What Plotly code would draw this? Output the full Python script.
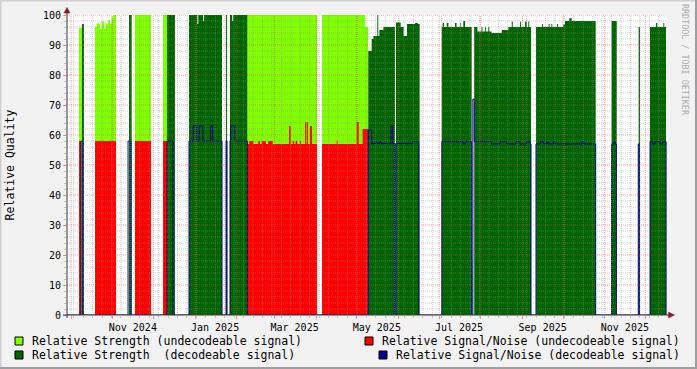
import plotly.graph_objects as go
import pandas as pd

# ---------------- data (step breakpoints: value holds until the next date) ----------------
lg_dates = ["2024-09-28", "2024-10-06 22:00", "2024-10-09 02:00",
            "2024-10-18 19:00", "2024-10-20 00:00", "2024-10-22 12:00", "2024-10-23 16:00",
            "2024-10-25 16:00", "2024-10-26 16:00", "2024-10-28 14:00", "2024-10-29 22:00",
            "2024-10-31 05:00", "2024-11-01 07:00", "2024-11-03 09:00",
            "2024-11-17 10:00", "2024-11-29 07:00",
            "2024-12-08 05:00", "2024-12-11 05:00",
            "2025-02-08 19:00", "2025-04-01 12:00",
            "2025-04-05 05:00", "2025-05-07 02:00", "2025-05-09 12:00",
            "2025-07-25 14:00", "2025-07-26 02:00",
            "2025-12-17 02:24"]
lg_vals = [0, 95.7, 0,
           96.1, 97.2, 95.5, 97.8, 95.5, 97.2, 98.3, 97.2, 99.2, 100, 0,
           100, 0,
           100, 0,
           100, 0,
           100, 96, 0,
           18, 0,
           0]

rd_dates = ["2024-09-28", "2024-10-06 22:00", "2024-10-08 10:00",
            "2024-10-18 19:00", "2024-11-03 09:00",
            "2024-11-17 10:00", "2024-11-29 07:00",
            "2024-12-08 05:00", "2024-12-11 05:00",
            "2025-02-08 19:00", "2025-02-10 05:00", "2025-02-13 05:00", "2025-02-16 22:00",
            "2025-02-18 05:00", "2025-02-19 10:00", "2025-02-22 14:00", "2025-02-24 07:00",
            "2025-02-27 14:00",
            "2025-03-11 17:00", "2025-03-12 22:00", "2025-03-14 10:00", "2025-03-15 10:00",
            "2025-03-16 14:00", "2025-03-17 19:00", "2025-03-19 19:00", "2025-03-20 14:00",
            "2025-03-23 14:00", "2025-03-24 07:00", "2025-03-24 19:00", "2025-03-25 19:00",
            "2025-03-27 07:00", "2025-03-28 19:00", "2025-04-01 12:00",
            "2025-04-05 05:00", "2025-04-16 02:00", "2025-04-16 19:00", "2025-04-30 22:00",
            "2025-05-02 10:00", "2025-05-05 07:00", "2025-05-09 12:00",
            "2025-12-17 02:24"]
rd_vals = [0, 58, 0,
           58, 0,
           58, 0,
           58, 0,
           57, 58, 57, 58, 57, 58, 57, 58, 57,
           63, 57, 58, 57, 58, 57, 58, 57, 64.3, 57, 64.3, 57, 63, 57, 0,
           57, 58, 57, 64.3, 57, 62, 0,
           0]

dg_dates = ["2024-09-28", "2024-10-09 02:00", "2024-10-10 14:00",
            "2024-11-13 00:00", "2024-11-15 00:00",
            "2024-12-11 05:00", "2024-12-17 02:00",
            "2024-12-27 12:00", "2025-01-02 17:00", "2025-01-03 10:00", "2025-01-06 22:00",
            "2025-01-07 17:00", "2025-01-21 00:00",
            "2025-01-24 00:00", "2025-01-24 17:00",
            "2025-01-26 22:00", "2025-01-28 14:00", "2025-01-29 07:00", "2025-02-08 19:00",
            "2025-05-09 12:00", "2025-05-12 00:00", "2025-05-13 07:00", "2025-05-16 05:00",
            "2025-05-16 22:00", "2025-05-17 17:00", "2025-05-20 17:00", "2025-05-29 07:00",
            "2025-05-30 02:00", "2025-06-02 12:00", "2025-06-04 17:00", "2025-06-07 05:00",
            "2025-06-13 05:00", "2025-06-15 05:00", "2025-06-16 14:00",
            "2025-07-03 00:00", "2025-07-03 17:00", "2025-07-04 17:00", "2025-07-06 17:00",
            "2025-07-07 22:00", "2025-07-12 19:00", "2025-07-14 00:00", "2025-07-16 12:00",
            "2025-07-17 00:00", "2025-07-19 00:00", "2025-07-20 07:00", "2025-07-25 05:00",
            "2025-07-27 02:00", "2025-07-29 12:00", "2025-08-01 12:00", "2025-08-02 05:00",
            "2025-08-04 00:00", "2025-08-04 17:00", "2025-08-06 12:00", "2025-08-07 05:00",
            "2025-08-09 00:00", "2025-08-16 12:00", "2025-08-21 10:00", "2025-08-23 22:00",
            "2025-08-24 17:00", "2025-08-30 00:00", "2025-08-30 17:00", "2025-09-02 19:00",
            "2025-09-04 00:00", "2025-09-05 05:00", "2025-09-05 22:00", "2025-09-07 05:00",
            "2025-09-10 22:00", "2025-09-15 10:00", "2025-09-16 02:00", "2025-09-20 07:00",
            "2025-09-21 00:00", "2025-09-22 07:00", "2025-09-23 00:00", "2025-09-26 12:00",
            "2025-09-27 05:00", "2025-10-01 05:00", "2025-10-02 10:00", "2025-10-05 14:00",
            "2025-10-07 10:00", "2025-10-25 05:00",
            "2025-11-06 00:00", "2025-11-09 19:00",
            "2025-11-26 02:00", "2025-11-27 02:00",
            "2025-12-04 12:00", "2025-12-09 00:00", "2025-12-09 22:00", "2025-12-14 10:00",
            "2025-12-15 02:00", "2025-12-16 10:00",
            "2025-12-17 02:24"]
dg_vals = [0, 97, 0,
           100, 0,
           100, 0,
           100, 97, 100, 98, 100, 0,
           100, 0,
           100, 98, 100, 0,
           88, 92, 93, 100, 93, 95, 96, 0, 97.5, 96, 93, 97, 97.3, 97, 0,
           96, 97.3, 96, 97.3, 96, 97.3, 96, 97.3, 96, 98, 96, 0,
           96, 94.5, 96, 94.5, 96, 94.5, 96, 94.5, 94, 95, 96, 97.8, 96, 97.8, 96, 97.8,
           96, 97.8, 96, 0,
           96, 97, 96, 97, 96, 97, 96, 97, 96, 96.8, 98, 98.9, 98, 0,
           98, 0,
           96, 0,
           96, 97.3, 96, 97.3, 96, 0,
           0]

bl_dates = ["2024-09-28", "2024-10-08 10:00", "2024-10-09 22:00",
            "2024-11-12 07:00", "2024-11-14 12:00",
            "2024-12-11 05:00", "2024-12-15 14:00",
            "2024-12-27 12:00", "2024-12-30 17:00", "2025-01-02 05:00", "2025-01-04 02:00",
            "2025-01-06 17:00", "2025-01-12 14:00", "2025-01-14 02:00", "2025-01-21 00:00",
            "2025-01-24 00:00", "2025-01-24 17:00",
            "2025-01-26 22:00", "2025-01-27 10:00", "2025-01-30 10:00", "2025-02-08 19:00",
            "2025-05-09 12:00", "2025-05-12 00:00", "2025-05-15 00:00", "2025-05-16 00:00",
            "2025-05-18 00:00", "2025-05-19 00:00", "2025-05-26 10:00", "2025-05-27 14:00",
            "2025-05-28 19:00", "2025-05-29 19:00", "2025-06-11 10:00", "2025-06-15 22:00",
            "2025-07-03 00:00", "2025-07-19 00:00", "2025-07-20 07:00", "2025-07-25 05:00",
            "2025-07-26 02:00", "2025-07-27 02:00", "2025-08-09 00:00", "2025-08-15 05:00",
            "2025-08-20 05:00", "2025-08-27 00:00", "2025-08-30 00:00", "2025-09-04 00:00",
            "2025-09-06 12:00", "2025-09-07 05:00",
            "2025-09-10 22:00", "2025-09-14 02:00", "2025-09-16 14:00", "2025-09-18 22:00",
            "2025-09-20 02:00", "2025-09-23 19:00", "2025-09-25 00:00", "2025-10-15 00:00",
            "2025-10-16 07:00", "2025-10-25 05:00",
            "2025-11-06 00:00", "2025-11-07 19:00", "2025-11-08 19:00", "2025-11-09 12:00",
            "2025-11-25 19:00", "2025-11-26 14:00",
            "2025-12-04 12:00", "2025-12-06 12:00", "2025-12-08 05:00", "2025-12-11 22:00",
            "2025-12-13 22:00", "2025-12-16 10:00",
            "2025-12-17 02:24"]
bl_vals = [0, 58, 0,
           58, 0,
           58, 0,
           58, 63, 58, 63, 58, 63, 58, 0,
           58, 0,
           58, 63, 58, 0,
           61.7, 57.2, 57.8, 57.2, 57.8, 57.2, 63, 57.2, 0, 57.2, 57.8, 0,
           57.8, 57, 57.8, 0, 72, 57.8, 57, 57.8, 57, 57.8, 57, 57.8, 57, 0,
           57, 57.8, 57, 57.8, 57, 57.8, 57, 57.8, 57, 0,
           57, 57.8, 57, 0,
           57, 0,
           57.8, 57, 57.8, 57, 57.8, 0,
           0]

x_range = ["2024-09-28 00:00", "2025-12-17 02:24"]
month_ticks = ["2024-10-01", "2024-11-01", "2024-12-01", "2025-01-01", "2025-02-01",
               "2025-03-01", "2025-04-01", "2025-05-01", "2025-06-01", "2025-07-01",
               "2025-08-01", "2025-09-01", "2025-10-01", "2025-11-01", "2025-12-01"]
month_labels = ["", "Nov 2024", "", "Jan 2025", "", "Mar 2025", "", "May 2025", "",
                "Jul 2025", "", "Sep 2025", "", "Nov 2025", ""]
y_ticks = [0, 10, 20, 30, 40, 50, 60, 70, 80, 90, 100]

names = ["Relative Strength (undecodeable signal)",
         "Relative Signal/Noise (undecodeable signal)",
         "Relative Strength\u00a0 (decodeable signal)",
         "Relative Signal/Noise (decodeable signal)"]
colors = ["#7FFF00", "#FF0000", "#006400", "#000088"]

for d, v in [(lg_dates, lg_vals), (rd_dates, rd_vals), (dg_dates, dg_vals), (bl_dates, bl_vals)]:
    assert len(d) == len(v), (len(d), len(v))

# ---------------- geometry helpers (pixel -> paper) ----------------
W, H = 697, 369
L, R, T, B = 67, 667, 15, 315


def pxx(px):
    return (px - L) / (R - L)


def pxy(py):
    return (B - py) / (B - T)


FONT = "DejaVu Sans Mono"
fig = go.Figure()

# areas
for d, v, c, n in [(lg_dates, lg_vals, colors[0], names[0]),
                   (rd_dates, rd_vals, colors[1], names[1]),
                   (dg_dates, dg_vals, colors[2], names[2])]:
    fig.add_trace(go.Scatter(x=d, y=v, mode="lines", line_shape="hv",
                             line=dict(width=0, color=c), fill="tozeroy", fillcolor=c,
                             name=n, showlegend=False, hoverinfo="skip"))
# line
fig.add_trace(go.Scatter(x=bl_dates, y=bl_vals, mode="lines", line_shape="hv",
                         line=dict(width=1, color=colors[3]), name=names[3],
                         showlegend=False, hoverinfo="skip"))

# grid drawn over the data (rrdtool style)
t0, t1 = x_range
weeks = [d.strftime("%Y-%m-%d") for d in pd.date_range("2024-10-03", "2025-12-16", freq="7D")]
minor_y = [y for y in range(2, 100, 2) if y % 10]
major_y = list(range(10, 101, 10))


def hlines(vals):
    xs, ys = [], []
    for y in vals:
        xs += [t0, t1, None]
        ys += [y, y, None]
    return xs, ys


def vlines(vals):
    xs, ys = [], []
    for x in vals:
        xs += [x, x, None]
        ys += [0, 100, None]
    return xs, ys


GRID = "rgba(143,143,143,0.45)"
MGRID = "rgba(222,79,79,0.55)"
for (xs, ys), col in [(hlines(minor_y), GRID), (vlines(weeks), GRID),
                      (hlines(major_y), MGRID), (vlines(month_ticks), MGRID)]:
    fig.add_trace(go.Scatter(x=xs, y=ys, mode="lines", line=dict(color=col, width=1, dash="1px,1px"),
                             showlegend=False, hoverinfo="skip", connectgaps=False))

shapes = []
AX = "#3a3a3a"
ARROW = "#801F1F"
# axes lines
shapes.append(dict(type="line", xref="paper", yref="paper", x0=pxx(67), x1=pxx(67),
                   y0=pxy(318), y1=pxy(11), line=dict(color=AX, width=1), layer="above"))
shapes.append(dict(type="line", xref="paper", yref="paper", x0=pxx(63), x1=pxx(669),
                   y0=pxy(315), y1=pxy(315), line=dict(color=AX, width=1), layer="above"))
# arrows
shapes.append(dict(type="path", xref="paper", yref="paper",
                   path=f"M {pxx(64)},{pxy(13)} L {pxx(70)},{pxy(13)} L {pxx(67)},{pxy(7.5)} Z",
                   fillcolor=ARROW, line=dict(color=ARROW, width=0.5), layer="above"))
shapes.append(dict(type="path", xref="paper", yref="paper",
                   path=f"M {pxx(668.5)},{pxy(312)} L {pxx(668.5)},{pxy(318)} L {pxx(674.5)},{pxy(315)} Z",
                   fillcolor=ARROW, line=dict(color=ARROW, width=0.5), layer="above"))
# 3D-ish border of the canvas
shapes.append(dict(type="line", xref="paper", yref="paper", x0=pxx(0), x1=pxx(697),
                   y0=pxy(0.5), y1=pxy(0.5), line=dict(color="#CFCFCF", width=2)))
shapes.append(dict(type="line", xref="paper", yref="paper", x0=pxx(0.5), x1=pxx(0.5),
                   y0=pxy(0), y1=pxy(369), line=dict(color="#CFCFCF", width=2)))
shapes.append(dict(type="line", xref="paper", yref="paper", x0=pxx(0), x1=pxx(697),
                   y0=pxy(368), y1=pxy(368), line=dict(color="#9E9E9E", width=2)))
shapes.append(dict(type="line", xref="paper", yref="paper", x0=pxx(696), x1=pxx(696),
                   y0=pxy(0), y1=pxy(369), line=dict(color="#9E9E9E", width=2)))

# legend (rrdtool layout): boxes + texts
legend_items = [(15, 341, colors[0], names[0], 30),
                (365, 341, colors[1], names[1], 380),
                (15, 355, colors[2], names[2], 30),
                (379, 355, colors[3], names[3], 394)]
annotations = []
for bx, cy, col, txt, tx in legend_items:
    shapes.append(dict(type="rect", xref="paper", yref="paper", x0=pxx(bx), x1=pxx(bx + 8),
                       y0=pxy(cy - 4), y1=pxy(cy + 4), fillcolor=col, line=dict(color="black", width=1)))
    annotations.append(dict(xref="paper", yref="paper", x=pxx(tx), y=pxy(cy), text=txt,
                            showarrow=False, xanchor="left", yanchor="middle",
                            font=dict(family=FONT, size=11.5, color="black")))
# watermark
annotations.append(dict(xref="paper", yref="paper", x=pxx(685), y=pxy(60), text="RRDTOOL / TOBI OETIKER",
                        showarrow=False, textangle=90, xanchor="center", yanchor="middle",
                        font=dict(family=FONT, size=8.4, color="#ABABAB")))

fig.update_layout(
    width=W, height=H, autosize=False,
    margin=dict(l=L, r=W - R, t=T, b=H - B, pad=0, autoexpand=False),
    paper_bgcolor="#F2F2F2", plot_bgcolor="#FFFFFF",
    showlegend=False,
    shapes=shapes, annotations=annotations,
    xaxis=dict(type="date", range=x_range, showgrid=False, zeroline=False, showline=False,
               automargin=False,
               tickmode="array", tickvals=month_ticks, ticktext=month_labels,
               ticklabelshift=20, ticks="outside", ticklen=3, tickcolor=MGRID, tickwidth=1,
               tickfont=dict(family=FONT, size=10, color="black"),
               minor=dict(tickmode="array", tickvals=weeks, ticks="outside", ticklen=2,
                          tickcolor=GRID, showgrid=False)),
    yaxis=dict(range=[0, 100], showgrid=False, zeroline=False, showline=False,
               automargin=False,
               tickmode="array", tickvals=y_ticks, ticks="outside", ticklen=3,
               tickcolor=MGRID, tickfont=dict(family=FONT, size=10, color="black"),
               minor=dict(dtick=2, ticks="outside", ticklen=2, tickcolor=GRID, showgrid=False),
               title=dict(text="Relative Quality", font=dict(family=FONT, size=11.5, color="black"),
                          standoff=25)),
)

fig.write_html("out.html", config={"displayModeBar": False},
               post_script="document.body.style.margin='0px';document.body.style.overflow='hidden';")
